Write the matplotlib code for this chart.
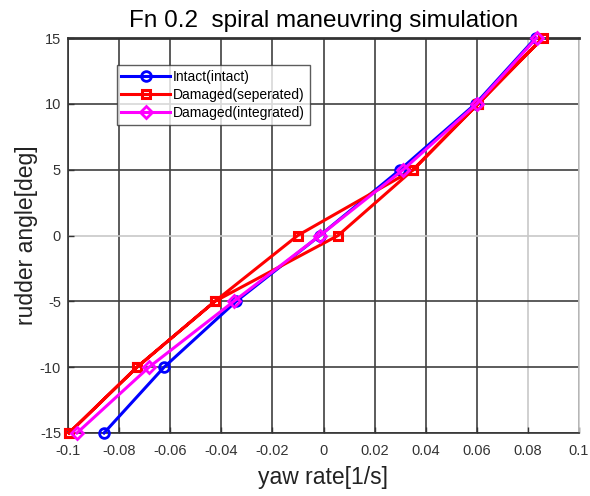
import numpy as np
import matplotlib
matplotlib.use("Agg")
import matplotlib.pyplot as plt

plt.rcParams['font.family'] = ['Liberation Sans', 'DejaVu Sans']
plt.rcParams['axes.unicode_minus'] = False

# datos
timon_intacto = [-15, -10, -5, 0, 5, 10, 15]
yaw_intacto = [-0.0859, -0.0624, -0.0342, -0.0014, 0.0300, 0.0595, 0.0830]

# el separado tiene histeresis en 0 grados (ida y vuelta)
timon_separado = [-15, -10, -5, 0, 5, 10, 15, 10, 5, 0, -5, -10, -15]
yaw_separado = [-0.0996, -0.0730, -0.0425, -0.0101, 0.0351, 0.0605, 0.0858,
                0.0605, 0.0351, 0.0057, -0.0425, -0.0730, -0.0996]

timon_integrado = [-15, -10, -5, 0, 5, 10, 15]
yaw_integrado = [-0.0965, -0.0683, -0.0351, -0.0014, 0.0312, 0.0600, 0.0834]

xticks = [-0.1, -0.08, -0.06, -0.04, -0.02, 0, 0.02, 0.04, 0.06, 0.08, 0.1]
xticklabels = ['-0.1', '-0.08', '-0.06', '-0.04', '-0.02', '0', '0.02', '0.04', '0.06', '0.08', '0.1']
yticks = [-15, -10, -5, 0, 5, 10, 15]

fig = plt.figure(figsize=(5.9, 4.96), dpi=100, facecolor='white')
ax = fig.add_axes([68 / 590, 1 - 433 / 496, 511 / 590, 395 / 496])

ax.plot(yaw_intacto, timon_intacto, color='#0000ff', lw=2.2, marker='o', ms=7,
        mfc='none', mew=2, label='Intact(intact)', zorder=3, clip_on=False)
ax.plot(yaw_separado, timon_separado, color='#ff0000', lw=2.2, marker='s', ms=6,
        mfc='none', mew=2.2, label='Damaged(seperated)', zorder=4, clip_on=False)
ax.plot(yaw_integrado, timon_integrado, color='#ff00ff', lw=2.2, marker='D', ms=6.5,
        mfc='none', mew=2, label='Damaged(integrated)', zorder=5, clip_on=False)

ax.set_xlim(-0.1, 0.1)
ax.set_ylim(-15, 15)
ax.set_xticks(xticks)
ax.set_xticklabels(xticklabels)
ax.set_yticks(yticks)
ax.tick_params(direction='in', length=4, width=1, labelsize=10.5,
               labelcolor='#333333', color='#333333', pad=5)
ax.tick_params(axis='x', pad=8)

# rejilla estilo MATLAB, con algunas lineas mas claras
ax.grid(True, color='#404040', lw=1.2)
ax.set_axisbelow(True)
for i, gl in enumerate(ax.get_xgridlines()):
    if xticks[i] == 0.08:
        gl.set_color('#c8c8c8')
for i, gl in enumerate(ax.get_ygridlines()):
    if yticks[i] == 0:
        gl.set_color('#c8c8c8')

for lado in ['left', 'bottom', 'top']:
    ax.spines[lado].set_color('#333333')
    ax.spines[lado].set_linewidth(1.2)
ax.spines['top'].set_linewidth(2)
ax.spines['right'].set_color('#c8c8c8')
ax.spines['right'].set_linewidth(1.2)

ax.set_title('Fn 0.2  spiral maneuvring simulation', fontsize=17.5, pad=8)
ax.set_xlabel('yaw rate[1/s]', fontsize=16.5, labelpad=6, color='#222222')
ax.set_ylabel('rudder angle[deg]', fontsize=16.5, labelpad=1, color='#222222')

leg = ax.legend(loc='upper left', bbox_to_anchor=(0.095, 0.932), fontsize=10,
                frameon=True, fancybox=False, edgecolor='#333333',
                handlelength=3.5, handletextpad=0.2, borderpad=0.35,
                labelspacing=0.3, borderaxespad=0)
leg.get_frame().set_linewidth(1)

plt.savefig('out.png', dpi=100, facecolor='white')
